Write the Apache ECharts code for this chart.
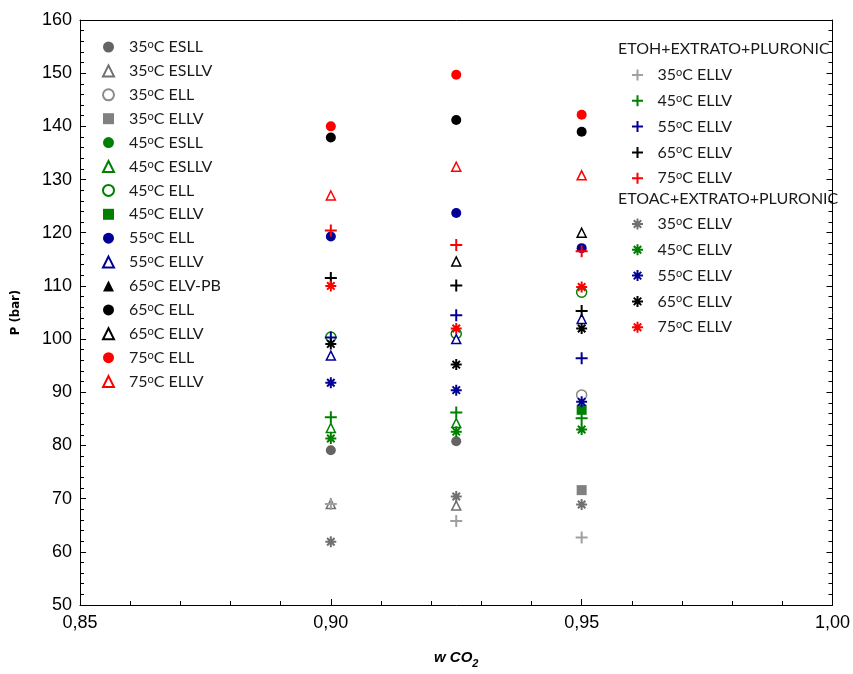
<!DOCTYPE html>
<html>
<head>
<meta charset="utf-8">
<script src="https://cdn.jsdelivr.net/npm/echarts@6/dist/echarts.min.js"></script>
<style>
html, body { margin: 0; padding: 0; background: #fff; }
#main { width: 853px; height: 674px; }
</style>
</head>
<body>
<div id="main"></div>
<script>
// x positions (w CO2)
const wCO2 = [0.90, 0.925, 0.95];
const xTicks = ['0,85', '0,90', '0,95', '1,00'];

// left legend group (P in bar, one value per w CO2, null = no point)
const esll35 = [79.1, 80.8, null];
const eslv35 = [69.0, 68.7, null];
const ell35 = [null, null, 89.5];
const ellv35 = [null, null, 71.6];
const esll45 = [null, null, null];
const eslv45 = [83.3, 84.2, null];
const ell45 = [100.4, 101.0, 108.8];
const ellv45 = [null, null, 86.7];
const ell55 = [119.3, 123.7, 117.1];
const ellv55 = [96.9, 100.0, 103.8];
const elvpb65 = [null, null, null];
const ell65 = [137.9, 141.2, 139.0];
const ellv65 = [null, 114.6, 120.0];
const ell75 = [140.0, 149.7, 142.2];
const ellv75 = [127.0, 132.4, 130.8];

// ETOH+EXTRATO+PLURONIC
const etoh35 = [69.0, 65.8, 62.7];
const etoh45 = [85.3, 86.2, 85.1];
const etoh55 = [100.3, 104.5, 96.4];
const etoh65 = [111.5, 110.1, 105.3];
const etoh75 = [120.4, 117.7, 116.5];

// ETOAC+EXTRATO+PLURONIC
const etoac35 = [61.9, 70.4, 68.9];
const etoac45 = [81.3, 82.6, 83.0];
const etoac55 = [91.8, 90.4, 88.2];
const etoac65 = [99.1, 95.2, 102.0];
const etoac75 = [110.0, 102.0, 109.8];

const PLUS = 'path://M0,5L10,5M5,0L5,10';
const STAR = 'path://M0,5L10,5M5,0L5,10M1.6,1.6L8.4,8.4M8.4,1.6L1.6,8.4';

const GREEN = '#008000', BLUE = '#000096', BLACK = '#000000', RED = '#ff0000';

// build one scatter series
function mk(name, vals, symbol, size, color, kind) {
    let pts = [];
    for (let i = 0; i < wCO2.length; i++) {
        if (vals[i] != null) pts.push([wCO2[i], vals[i]]);
    }
    let style;
    if (kind == 'open') {
        style = { color: '#fff', borderColor: color, borderWidth: 1.5, opacity: 1 };
    } else if (kind == 'line') {
        style = { color: color, borderColor: color, borderWidth: 2, opacity: 1 };
    } else {
        style = { color: color, opacity: 1 };
    }
    return {
        name: name,
        type: 'scatter',
        data: pts,
        symbol: symbol,
        symbolSize: size,
        itemStyle: style,
        emphasis: { disabled: true },
        silent: true
    };
}

let series = [
    mk('35 ESLL', esll35, 'circle', 10, '#646464', 'fill'),
    mk('35 ESLLV', eslv35, 'triangle', 9, '#707070', 'open'),
    mk('35 ELL', ell35, 'circle', 10, '#8a8a8a', 'open'),
    mk('35 ELLV', ellv35, 'rect', 10, '#808080', 'fill'),
    mk('45 ESLL', esll45, 'circle', 10, GREEN, 'fill'),
    mk('45 ESLLV', eslv45, 'triangle', 9, GREEN, 'open'),
    mk('45 ELL', ell45, 'circle', 10, GREEN, 'open'),
    mk('45 ELLV', ellv45, 'rect', 10, GREEN, 'fill'),
    mk('55 ELL', ell55, 'circle', 10, BLUE, 'fill'),
    mk('55 ELLV', ellv55, 'triangle', 9, BLUE, 'open'),
    mk('65 ELV-PB', elvpb65, 'triangle', 10, BLACK, 'fill'),
    mk('65 ELL', ell65, 'circle', 10, BLACK, 'fill'),
    mk('65 ELLV', ellv65, 'triangle', 9, BLACK, 'open'),
    mk('75 ELL', ell75, 'circle', 10, RED, 'fill'),
    mk('75 ELLV', ellv75, 'triangle', 9, RED, 'open'),

    mk('ETOH 35', etoh35, PLUS, 12, '#a0a0a0', 'line'),
    mk('ETOH 45', etoh45, PLUS, 12, GREEN, 'line'),
    mk('ETOH 55', etoh55, PLUS, 12, BLUE, 'line'),
    mk('ETOH 65', etoh65, PLUS, 12, BLACK, 'line'),
    mk('ETOH 75', etoh75, PLUS, 12, RED, 'line'),

    mk('ETOAC 35', etoac35, STAR, 11, '#707070', 'line'),
    mk('ETOAC 45', etoac45, STAR, 11, GREEN, 'line'),
    mk('ETOAC 55', etoac55, STAR, 11, BLUE, 'line'),
    mk('ETOAC 65', etoac65, STAR, 11, BLACK, 'line'),
    mk('ETOAC 75', etoac75, STAR, 11, RED, 'line')
];

let leftNames = series.slice(0, 15).map(s => s.name);
let etohNames = series.slice(15, 20).map(s => s.name);
let etoacNames = series.slice(20).map(s => s.name);

// "35 ESLL" -> 35 °C ESLL with superscript o
function legendLabel(name) {
    let parts = name.split(' ');
    let temp, kind;
    if (parts[0] == 'ETOH' || parts[0] == 'ETOAC') {
        temp = parts[1]; kind = 'ELLV';
    } else {
        temp = parts[0]; kind = parts.slice(1).join(' ');
    }
    return temp + '{s|o}C ' + kind;
}

const LEG_FONT = 'Lato';
function legText(pad) {
    return {
        fontFamily: LEG_FONT,
        fontSize: 16,
        lineHeight: 16,
        color: '#1a1a1a',
        padding: [0, 0, 0, pad],
        rich: {
            s: { fontFamily: LEG_FONT, fontSize: 11, color: '#1a1a1a', verticalAlign: 'top', lineHeight: 8 }
        }
    };
}

function mkLegend(names, left, top, gap, pad) {
    return {
        data: names,
        orient: 'vertical',
        left: left,
        top: top,
        itemWidth: 11,
        itemHeight: 11,
        itemGap: gap,
        selectedMode: false,
        formatter: legendLabel,
        textStyle: legText(pad)
    };
}

var myChart = echarts.init(document.getElementById('main'));
var option = {
    backgroundColor: '#fff',
    animation: false,
    grid: { left: 80, right: 19, top: 20, bottom: 62 },
    legend: [
        mkLegend(leftNames, 97, 34, 7.9, 10),
        mkLegend(etohNames, 626, 62, 9.8, 9.5),
        mkLegend(etoacNames, 626, 211, 9.8, 9.5)
    ],
    graphic: [
        { type: 'text', left: 618, top: 41, style: { text: 'ETOH+EXTRATO+PLURONIC', fontFamily: LEG_FONT, fontSize: 16, fill: '#1a1a1a' } },
        { type: 'text', left: 618, top: 191, style: { text: 'ETOAC+EXTRATO+PLURONIC', fontFamily: LEG_FONT, fontSize: 16, fill: '#1a1a1a' } }
    ],
    xAxis: [{
        type: 'value',
        min: 0.85,
        max: 1.0,
        interval: 0.05,
        name: '{a|w CO}{b|2}',
        nameLocation: 'middle',
        nameGap: 42,
        nameTextStyle: {
            rich: {
                a: { fontFamily: 'Liberation Sans', fontSize: 15, fontWeight: 'bold', fontStyle: 'italic', color: '#000' },
                b: { fontFamily: 'Liberation Sans', fontSize: 11, fontWeight: 'bold', fontStyle: 'italic', color: '#000', verticalAlign: 'bottom', lineHeight: 22 }
            }
        },
        axisLine: { lineStyle: { color: '#000', width: 1 } },
        axisTick: { inside: true, length: 6, lineStyle: { color: '#000' } },
        minorTick: { show: true, splitNumber: 5, length: 4, lineStyle: { color: '#000' } },
        splitLine: { show: false },
        axisLabel: {
            fontFamily: 'Liberation Sans', fontSize: 18, color: '#000', margin: 9,
            formatter: function (v) { return xTicks[Math.round((v - 0.85) / 0.05)]; }
        }
    }, {
        type: 'value',
        position: 'top',
        min: 0.85,
        max: 1.0,
        interval: 0.05,
        axisLine: { show: true, lineStyle: { color: '#000', width: 1 } },
        axisTick: { show: false },
        axisLabel: { show: false },
        splitLine: { show: false }
    }],
    yAxis: [{
        type: 'value',
        min: 50,
        max: 160,
        interval: 10,
        name: 'P (bar)',
        nameLocation: 'middle',
        nameGap: 58,
        nameRotate: 90,
        nameTextStyle: { fontFamily: 'DejaVu Sans Condensed', fontSize: 13, fontWeight: 'bold', color: '#000' },
        axisLine: { show: true, lineStyle: { color: '#000', width: 1 } },
        axisTick: { inside: true, length: 6, lineStyle: { color: '#000' } },
        minorTick: { show: true, splitNumber: 5, length: 4, lineStyle: { color: '#000' } },
        splitLine: { show: false },
        axisLabel: { fontFamily: 'Liberation Sans', fontSize: 18, color: '#000', margin: 8 }
    }, {
        type: 'value',
        position: 'right',
        min: 50,
        max: 160,
        interval: 10,
        axisLine: { show: true, lineStyle: { color: '#000', width: 1 } },
        axisTick: { inside: true, length: 6, lineStyle: { color: '#000' } },
        minorTick: { show: true, splitNumber: 5, length: 4, lineStyle: { color: '#000' } },
        splitLine: { show: false },
        axisLabel: { show: false }
    }],
    series: series
};
myChart.setOption(option);
</script>
</body>
</html>
